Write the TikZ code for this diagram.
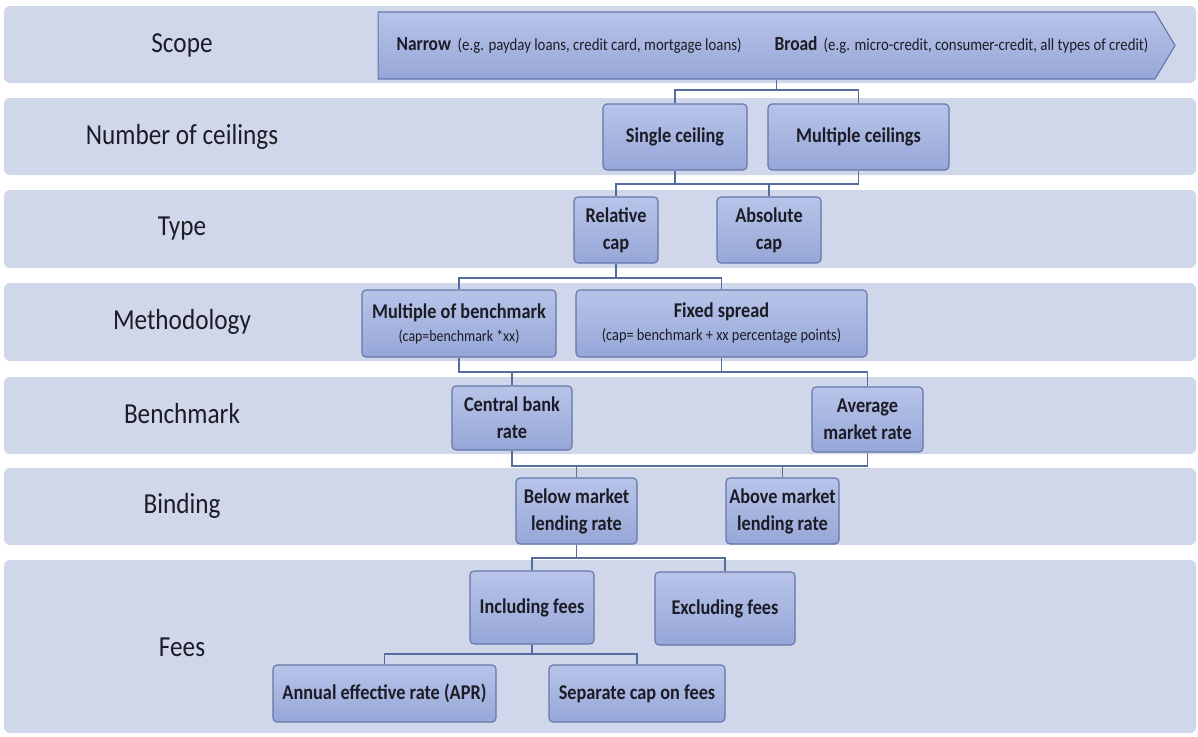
\documentclass[tikz,border=0pt]{standalone}
\usepackage{fontspec}
\setmainfont{Carlito}[FakeStretch=0.87]
\usepackage{tikz}
\usetikzlibrary{calc, shapes.symbols}

\definecolor{bandcol}{RGB}{209,215,234}
\definecolor{boxtop}{RGB}{184,196,233}
\definecolor{boxbot}{RGB}{150,166,215}
\definecolor{boxline}{RGB}{100,118,168}
\definecolor{linkcol}{RGB}{84,108,158}
\definecolor{txtcol}{RGB}{28,28,38}

\tikzset{
  band/.style={fill=bandcol, rounded corners=6pt},
  lbl/.style={font=\fontsize{29}{32}\selectfont, text=txtcol},
  box/.style={draw=boxline, line width=1.1pt, top color=boxtop, bottom color=boxbot,
    rounded corners=4pt, inner sep=0pt, align=center, text=txtcol,
    font=\bfseries\fontsize{21}{27}\selectfont},
  link/.style={draw=linkcol, line width=1.6pt},
}

\begin{document}
\begin{tikzpicture}[x=1pt, y=-1pt]

 %% Paramaters
 %% label column, can be modified
 \def\lblPos{182}
 \def\bandL{4}
 \def\bandR{1196}

 \useasboundingbox (0,0) rectangle (1198,736);

 %% ***Bands***
 \fill[band] (\bandL,6) rectangle (\bandR,83);
 \fill[band] (\bandL,98) rectangle (\bandR,175);
 \fill[band] (\bandL,190) rectangle (\bandR,268);
 \fill[band] (\bandL,283) rectangle (\bandR,361);
 \fill[band] (\bandL,377) rectangle (\bandR,454);
 \fill[band] (\bandL,468) rectangle (\bandR,545);
 \fill[band] (\bandL,560) rectangle (\bandR,733);

 \node[lbl] (lscope) at (\lblPos,45) {Scope};
 \node[lbl] (lnumber) at (\lblPos,137) {Number of ceilings};
 \node[lbl] (ltype) at (\lblPos,229) {Type};
 \node[lbl] (lmethod) at (\lblPos,322) {Methodology};
 \node[lbl] (lbench) at (\lblPos,414) {Benchmark};
 \node[lbl] (lbinding) at (\lblPos,506) {Binding};
 \node[lbl] (lfees) at (\lblPos,647) {Fees};

 %% ***Scope arrow***
 \node[box, shape=signal, signal to=east, signal pointer angle=118,
       minimum width=797pt, minimum height=67pt, rounded corners=0pt] (scope) at (766.5,45.5) {};
 \node[anchor=west, text=txtcol, font=\fontsize{17}{20}\selectfont] (narrow) at (393,45)
   {{\bfseries\fontsize{20}{22}\selectfont Narrow}\ \ (e.g. payday loans, credit card, mortgage loans)};
 \node[anchor=west, text=txtcol, font=\fontsize{17}{20}\selectfont] (broad) at (771,45)
   {{\bfseries\fontsize{20}{22}\selectfont Broad}\ \,(e.g. micro-credit, consumer-credit, all types of credit)};

 %% ***Boxes***
 \node[box, minimum width=144pt, minimum height=66pt] (single) at (675,137) {Single ceiling};
 \node[box, minimum width=181pt, minimum height=66pt] (multiple) at (858.5,137) {Multiple ceilings};

 \node[box, minimum width=84pt, minimum height=66pt] (relative) at (616,230) {Relative\\cap};
 \node[box, minimum width=104pt, minimum height=66pt] (absolute) at (769,230) {Absolute\\cap};

 \node[box, minimum width=194pt, minimum height=67pt] (multbench) at (459,323.5)
   {Multiple of benchmark\\[-4pt]{\mdseries\fontsize{16}{18}\selectfont (cap=benchmark *xx)}};
 \node[box, minimum width=291pt, minimum height=67pt] (fixed) at (721.5,323.5)
   {Fixed spread\\[-4pt]{\mdseries\fontsize{16.5}{18}\selectfont (cap= benchmark + xx percentage points)}};

 \node[box, minimum width=120pt, minimum height=64pt] (central) at (512,418) {Central bank\\rate};
 \node[box, minimum width=111pt, minimum height=65pt] (average) at (867.5,419.5) {Average\\market rate};

 \node[box, minimum width=121pt, minimum height=66pt] (below) at (576.5,511) {Below market\\lending rate};
 \node[box, minimum width=113pt, minimum height=66pt] (above) at (782.5,511) {Above market\\lending rate};

 \node[box, minimum width=124pt, minimum height=73pt] (including) at (532,607.5) {Including fees};
 \node[box, minimum width=140pt, minimum height=73pt] (excluding) at (725,608.5) {Excluding fees};

 \node[box, minimum width=223pt, minimum height=57pt] (annual) at (384.5,693.5) {Annual effective rate (APR)};
 \node[box, minimum width=176pt, minimum height=57pt] (separate) at (637,693.5) {Separate cap on fees};

 %% ***Connectors***
 \coordinate (bar1) at (0,90);
 \coordinate (bar2) at (0,184);
 \coordinate (bar3) at (0,278);
 \coordinate (bar4) at (0,372);
 \coordinate (bar5) at (0,466);
 \coordinate (bar6) at (0,558);
 \coordinate (bar7) at (0,654);

 % scope
 \draw[link] ($(scope.south)+(10,0)$) |- (single.north |- bar1) -- (single.north);
 \draw[link] ($(scope.south)+(10,0)$) |- (multiple.north |- bar1) -- (multiple.north);
 % number of ceilings
 \draw[link] (single.south) |- (relative.north |- bar2) -- (relative.north);
 \draw[link] (single.south) |- (absolute.north |- bar2) -- (absolute.north);
 \draw[link] (multiple.south) |- (absolute.north |- bar2);
 % type
 \draw[link] (relative.south) |- (multbench.north |- bar3) -- (multbench.north);
 \draw[link] (relative.south) |- (fixed.north |- bar3) -- (fixed.north);
 % methodology
 \draw[link] (multbench.south) |- (central.north |- bar4) -- (central.north);
 \draw[link] (multbench.south) |- (average.north |- bar4) -- (average.north);
 \draw[link] (fixed.south) |- (average.north |- bar4);
 % benchmark
 \draw[link] (central.south) |- (below.north |- bar5) -- (below.north);
 \draw[link] (central.south) |- (above.north |- bar5) -- (above.north);
 \draw[link] (average.south) |- (above.north |- bar5);
 % binding
 \draw[link] (below.south) |- (including.north |- bar6) -- (including.north);
 \draw[link] (below.south) |- (excluding.north |- bar6) -- (excluding.north);
 % fees
 \draw[link] (including.south) |- (annual.north |- bar7) -- (annual.north);
 \draw[link] (including.south) |- (separate.north |- bar7) -- (separate.north);

\end{tikzpicture}
\end{document}
